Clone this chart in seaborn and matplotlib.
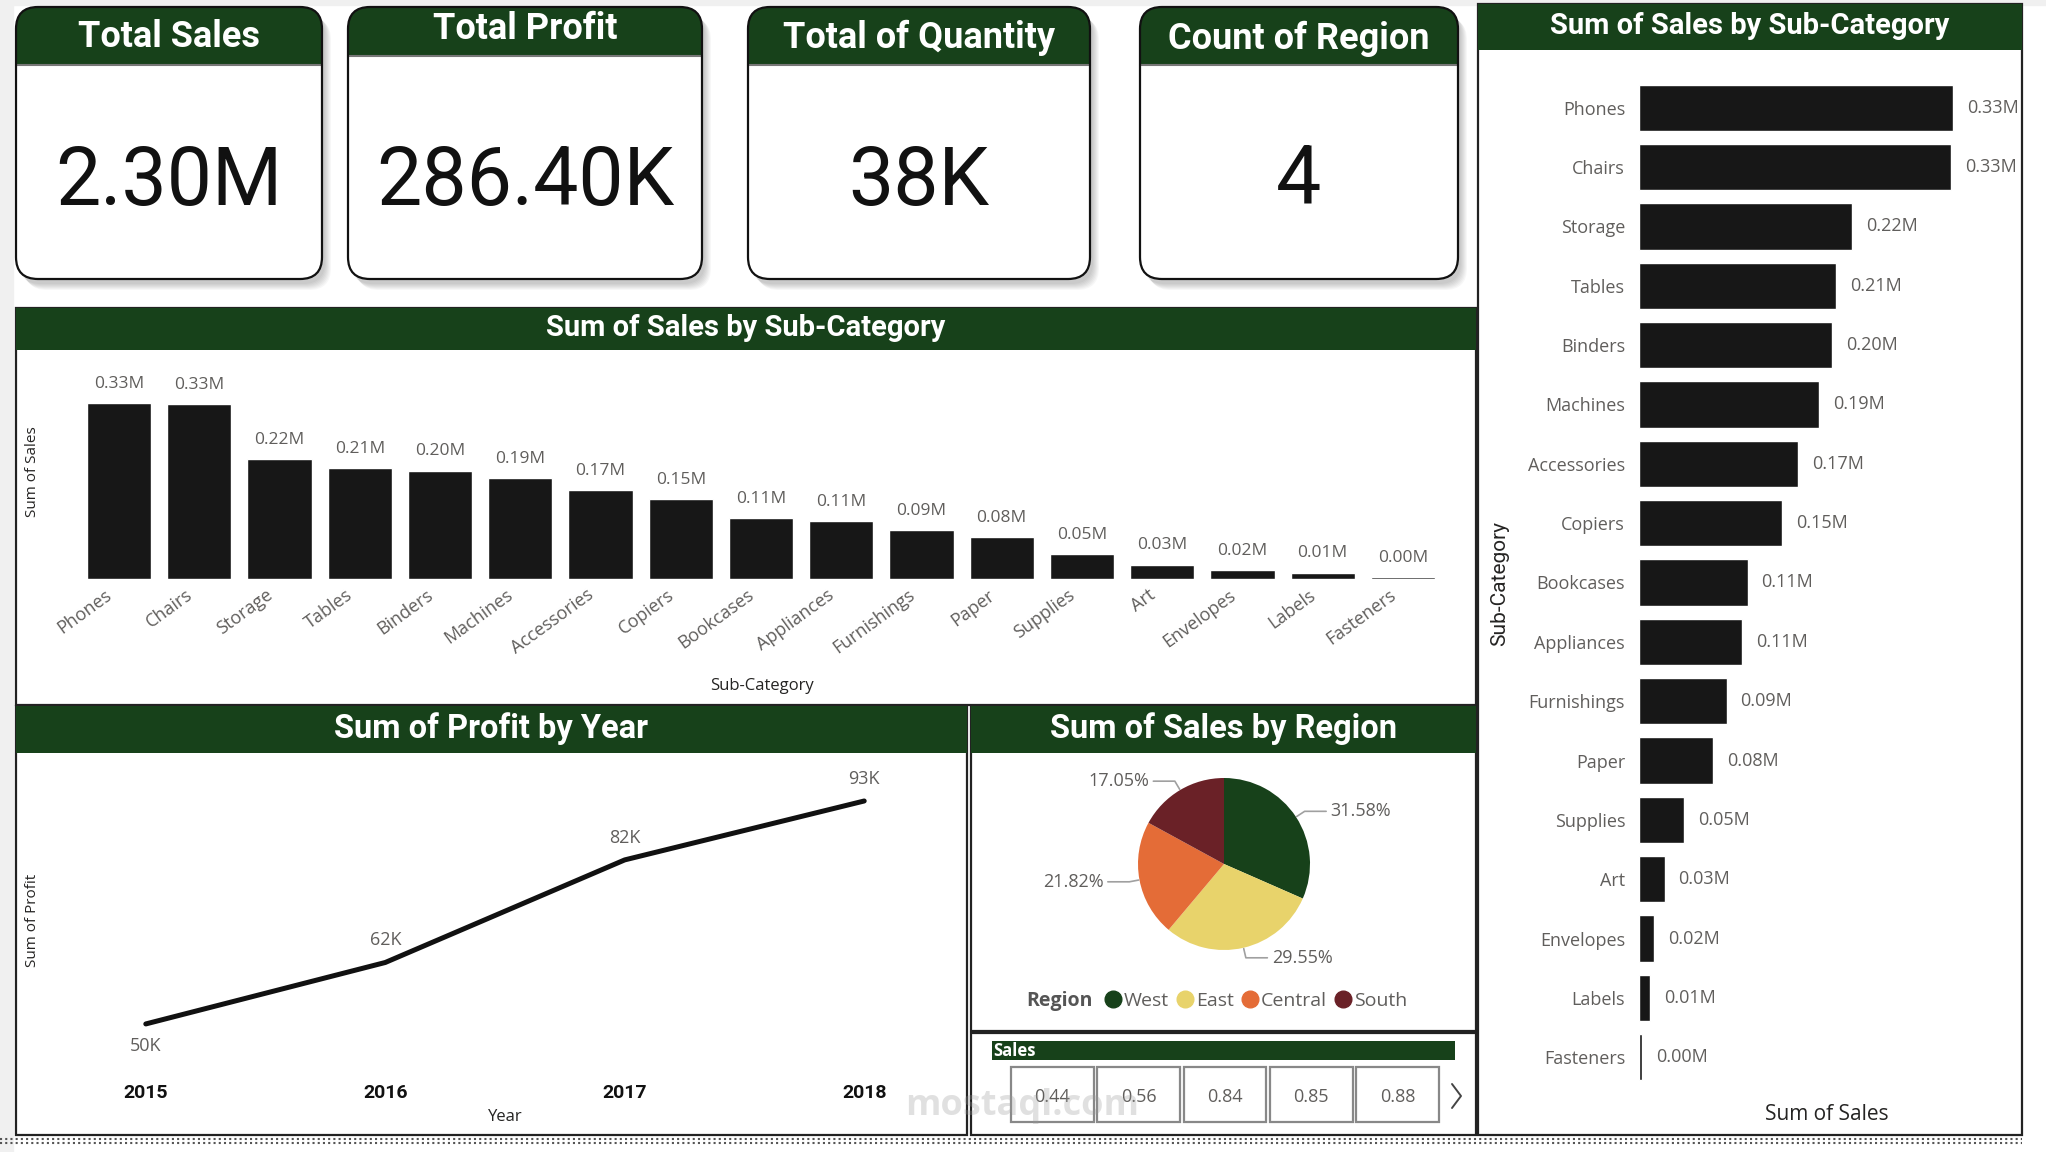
import matplotlib
matplotlib.use('Agg')
import matplotlib.pyplot as plt
import matplotlib.transforms as mtransforms
from matplotlib.patches import FancyBboxPatch, Rectangle
from matplotlib.lines import Line2D
import seaborn as sns
import numpy as np
import pandas as pd

# ---- data ----
kpi_titles = ['Total Sales', 'Total Profit', 'Total of Quantity', 'Count of Region']
kpi_values = ['2.30M', '286.40K', '38K', '4']

sub_categories = ['Phones', 'Chairs', 'Storage', 'Tables', 'Binders', 'Machines',
                  'Accessories', 'Copiers', 'Bookcases', 'Appliances', 'Furnishings',
                  'Paper', 'Supplies', 'Art', 'Envelopes', 'Labels', 'Fasteners']
sales_m = [0.330, 0.328, 0.224, 0.207, 0.203, 0.189, 0.167, 0.150, 0.114,
           0.108, 0.092, 0.078, 0.047, 0.027, 0.016, 0.012, 0.003]

years = [2015, 2016, 2017, 2018]
profit_k = [49.5, 61.6, 81.8, 93.4]

regions = ['West', 'East', 'Central', 'South']
region_share = [31.58, 29.55, 21.82, 17.05]
region_colors = ['#17411A', '#E8D36B', '#E46C37', '#6A2127']

slicer_values = [0.44, 0.56, 0.84, 0.85, 0.88]

GREEN = '#17411A'
BAR = '#171717'
GREY = '#605E5C'
HEAD = ['Roboto', 'DejaVu Sans']
BODY = ['Open Sans', 'DejaVu Sans']

sns.set_theme(style='white')
plt.rcParams['font.family'] = BODY

W, H = 2046, 1152
fig = plt.figure(figsize=(W / 100, H / 100), dpi=100)
fig.patch.set_facecolor('white')
bg = fig.add_axes([0, 0, 1, 1], zorder=0)
bg.set_xlim(0, W)
bg.set_ylim(H, 0)
bg.axis('off')


def add_ax(x0, y0, x1, y1):
    ax = fig.add_axes([x0 / W, 1 - y1 / H, (x1 - x0) / W, (y1 - y0) / H], zorder=2)
    ax.patch.set_alpha(0)
    return ax


def clean(ax):
    for s in ax.spines.values():
        s.set_visible(False)


# page background strips
bg.add_patch(Rectangle((0, 0), 13, H, color='#F0F0F0', zorder=0))
bg.add_patch(Rectangle((0, 0), W, 5, color='#F0F0F0', zorder=0))

# ---- KPI cards ----
cards = [(16, 322, 65, 37), (348, 702, 56, 29), (748, 1090, 65, 38), (1140, 1458, 65, 39)]
box = 'round,pad=0,rounding_size=22'
for (x0, x1, hb, ty), title, val in zip(cards, kpi_titles, kpi_values):
    y0, y1 = 7, 279
    for k in range(7):
        bg.add_patch(FancyBboxPatch((x0 + 3 + k, y0 + 5 + k), x1 - x0, y1 - y0, boxstyle=box,
                                    fc='black', ec='none', alpha=0.03, zorder=1))
    bg.add_patch(FancyBboxPatch((x0, y0), x1 - x0, y1 - y0, boxstyle=box, fc='white', ec='none', zorder=2))
    head = FancyBboxPatch((x0, y0), x1 - x0, y1 - y0, boxstyle=box, fc=GREEN, ec='none', zorder=3)
    bg.add_patch(head)
    head.set_clip_path(Rectangle((x0, y0), x1 - x0, hb - y0, transform=bg.transData))
    bg.plot([x0, x1], [hb, hb], color='#777777', lw=1.5, zorder=4)
    bg.add_patch(FancyBboxPatch((x0, y0), x1 - x0, y1 - y0, boxstyle=box, fc='none', ec='#111111',
                                lw=1.6, zorder=5))
    bg.text((x0 + x1) / 2, ty, title, color='white', fontsize=26, fontweight='bold', family=HEAD,
            ha='center', va='center', zorder=6)
    bg.text((x0 + x1) / 2, 183, val, color='#111111', fontsize=58, family=HEAD,
            ha='center', va='center', zorder=6)


# ---- panels ----
def panel(x0, y0, x1, y1, hb, title, ty, size):
    bg.add_patch(Rectangle((x0, y0), x1 - x0, y1 - y0, fc='white', ec='#222222', lw=1.6, zorder=1))
    if title:
        bg.add_patch(Rectangle((x0, y0), x1 - x0, hb - y0, fc=GREEN, ec='none', zorder=2))
        bg.text((x0 + x1) / 2, ty, title, color='white', fontsize=size, fontweight='bold',
                family=HEAD, ha='center', va='center', zorder=3)


panel(1478, 4, 2022, 1135, 50, 'Sum of Sales by Sub-Category', 26, 21)
panel(16, 308, 1476, 705, 350, 'Sum of Sales by Sub-Category', 328, 21)
panel(16, 706, 967, 1135, 753, 'Sum of Profit by Year', 729, 23.5)
panel(971, 706, 1476, 1031, 753, 'Sum of Sales by Region', 729, 23.5)
panel(971, 1033, 1476, 1135, None, None, None, None)

df = pd.DataFrame({'Sub-Category': sub_categories, 'Sales': sales_m})
labels_m = [f'{v:.2f}M' for v in sales_m]

# ---- vertical bar chart ----
ax1 = add_ax(79, 360, 1443, 579)
sns.barplot(data=df, x='Sub-Category', y='Sales', color=BAR, saturation=1, width=0.8, ax=ax1)
ax1.set_ylim(0, 0.41)
ax1.set_xlim(-0.5, len(sub_categories) - 0.5)
ax1.bar_label(ax1.containers[0], labels=labels_m, padding=8, fontsize=12.5, color=GREY)
ax1.set_yticks([])
ax1.set_xlabel('')
ax1.set_ylabel('')
ax1.tick_params(axis='x', length=0, pad=6)
shift = mtransforms.ScaledTranslation(-0.09, -0.06, fig.dpi_scale_trans)
for t in ax1.get_xticklabels():
    t.set_rotation(36)
    t.set_ha('right')
    t.set_va('center')
    t.set_rotation_mode('anchor')
    t.set_fontsize(13)
    t.set_color(GREY)
    t.set_transform(t.get_transform() + shift)
clean(ax1)
bg.text(762, 686, 'Sub-Category', fontsize=12, color='#252423', ha='center', va='center', zorder=5)
bg.text(33, 472, 'Sum of Sales', fontsize=11, color='#252423', rotation=90, ha='center', va='center', zorder=5)

# ---- horizontal bar chart ----
ax2 = add_ax(1639, 78, 2015, 1087)
sns.barplot(data=df, y='Sub-Category', x='Sales', color=BAR, saturation=1, width=0.78, ax=ax2, orient='h')
ax2.set_xlim(0, 0.395)
ax2.bar_label(ax2.containers[0], labels=labels_m, padding=10, fontsize=13, color=GREY)
ax2.set_xticks([])
ax2.set_xlabel('')
ax2.set_ylabel('')
ax2.tick_params(axis='y', length=0, pad=10, labelsize=13, labelcolor=GREY)
clean(ax2)
bg.text(1500, 583, 'Sub-Category', fontsize=15, family=HEAD, color='#252423', rotation=90,
        ha='center', va='center', zorder=5)
bg.text(1827, 1114, 'Sum of Sales', fontsize=15, color='#252423', ha='center', va='center', zorder=5)

# ---- line chart ----
dfp = pd.DataFrame({'Year': years, 'Profit': profit_k})
ax3 = add_ax(50, 770, 960, 1060)
sns.lineplot(data=dfp, x='Year', y='Profit', color='#111111', lw=3.6, ax=ax3,
             solid_capstyle='round')
ax3.set_xlim(2014.6, 2018.4)
ax3.set_ylim(42.4, 99.5)
ax3.set_xticks(years)
ax3.set_xticklabels([str(y) for y in years], fontweight='bold', family=HEAD, fontsize=14, color='#111111')
ax3.tick_params(axis='x', length=0, pad=17)
ax3.set_yticks([])
ax3.set_xlabel('')
ax3.set_ylabel('')
clean(ax3)
for i, (x, y) in enumerate(zip(years, profit_k)):
    ax3.annotate(f'{y:.0f}K', (x, y), xytext=(0, -16 if i == 0 else 16), textcoords='offset points',
                 ha='center', va='center', fontsize=13, color=GREY)
bg.text(505, 1117, 'Year', fontsize=12, color='#252423', ha='center', va='center', zorder=5)
bg.text(33, 920, 'Sum of Profit', fontsize=11, color='#252423', rotation=90, ha='center', va='center', zorder=5)

# ---- pie chart ----
R = 86
ax4 = add_ax(1224 - 250, 864 - 190, 1224 + 250, 864 + 190)
wedges, _ = ax4.pie(region_share, colors=region_colors, startangle=90, counterclock=False,
                    radius=1, wedgeprops=dict(linewidth=0))
ax4.set_xlim(-250 / R, 250 / R)
ax4.set_ylim(-190 / R, 190 / R)
ax4.set_aspect('equal')
for w, share in zip(wedges, region_share):
    ang = np.deg2rad((w.theta1 + w.theta2) / 2)
    ex, ey = np.cos(ang), np.sin(ang)
    kx, ky = 1.12 * ex, 1.12 * ey
    side = 1 if ex >= 0 else -1
    hx = kx + side * 0.25
    ax4.plot([1.01 * ex, kx, hx], [1.01 * ey, ky, ky], color='#A0A0A0', lw=1.2, clip_on=False)
    ax4.text(hx + side * 0.05, ky, f'{share:.2f}%', fontsize=13, color=GREY,
             ha='left' if side > 0 else 'right', va='center')

bg.text(1026, 1001, 'Region', fontsize=14, fontweight='bold', color='#555555', ha='left', va='center', zorder=5)
handles = [Line2D([], [], marker='o', ls='', color=c, markersize=12) for c in region_colors]
leg = fig.legend(handles, regions, ncol=4, loc='center left', bbox_to_anchor=(1102 / W, 1 - 1001 / H),
                 frameon=False, handletextpad=0.0, columnspacing=0.3, fontsize=14, handlelength=1.1,
                 borderaxespad=0, borderpad=0)
for t in leg.get_texts():
    t.set_color(GREY)

# ---- slicer ----
bg.add_patch(Rectangle((992, 1041), 463, 19, fc=GREEN, ec='none', zorder=5))
bg.text(993, 1051, 'Sales', fontsize=12, fontweight='bold', color='white', ha='left', va='center', zorder=6)
ax5 = add_ax(1011, 1067, 1439, 1122)
ax5.set_xlim(0, len(slicer_values) - 0.038)
ax5.set_ylim(0, 1)
ax5.axis('off')
for i, v in enumerate(slicer_values):
    ax5.add_patch(Rectangle((i, 0), 0.962, 1, fc='white', ec='#888888', lw=1.6, clip_on=False))
    ax5.text(i + 0.481, 0.45, f'{v:.2f}', fontsize=13, color=GREY, ha='center', va='center')
bg.plot([1452, 1461, 1452], [1084, 1096, 1108], color='#444444', lw=1.4, zorder=6)

# watermark (drawn above the panels)
fig.text(1022 / W, 1 - 1106 / H, 'mostaql.com', fontsize=26, color='#9A9A9A', alpha=0.3,
         ha='center', va='center', fontweight='bold', zorder=10)

# bottom dotted border
bg.plot([0, 2022], [1139, 1139], ls=(0, (1, 1.5)), color='#555555', lw=1.5, zorder=6)
bg.plot([0, 2022], [1143, 1143], ls=(0, (1, 1.5)), color='#555555', lw=1.5, zorder=6)

fig.savefig('out.png', dpi=100)
